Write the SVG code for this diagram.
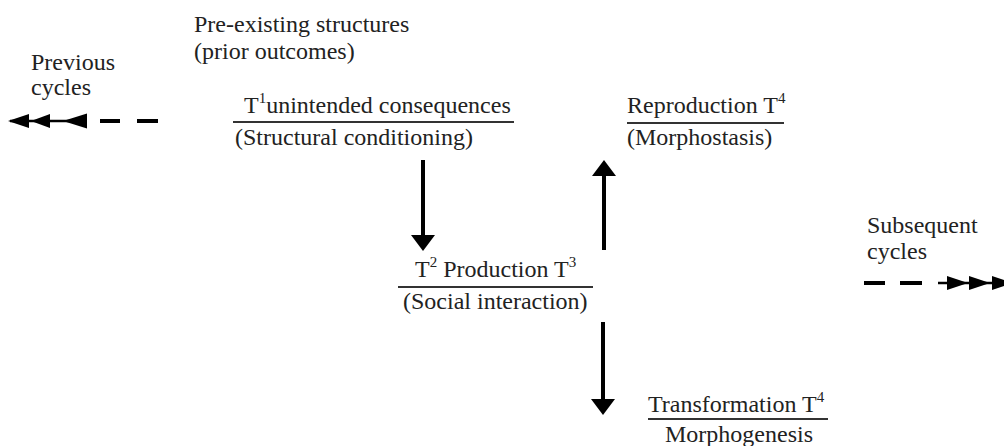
<svg xmlns="http://www.w3.org/2000/svg" width="1004" height="446" viewBox="0 0 1004 446" font-family="'Liberation Serif', 'Times New Roman', Tinos, 'DejaVu Serif', serif" font-size="24">
<style>
text{font-family:'Liberation Serif','Times New Roman',Tinos,'DejaVu Serif',serif;font-size:24px;fill:#222}
.c{text-anchor:middle}
.sup{font-size:15px}
.rule{stroke:#333;stroke-width:2}
.shaft{stroke:#000;stroke-width:4}
.dash{stroke:#000;stroke-width:4}
.head{fill:#000}
</style>
<rect width="1004" height="446" fill="#fff"/>
<g id="previous-cycles">
<text x="31" y="70">Previous</text>
<text x="31" y="95">cycles</text>
</g>
<g id="pre-existing">
<text x="194" y="32">Pre-existing structures</text>
<text x="194" y="59">(prior outcomes)</text>
</g>
<g id="t1">
<text x="244" y="113">T<tspan class="sup" dy="-10">1</tspan><tspan dy="10">unintended consequences</tspan></text>
<line class="rule" x1="233" y1="122" x2="514" y2="122"/>
<text x="235" y="145">(Structural conditioning)</text>
</g>
<g id="t2">
<text x="415" y="277">T<tspan class="sup" dy="-10">2</tspan><tspan dy="10"> Production T</tspan><tspan class="sup" dy="-10">3</tspan></text>
<line class="rule" x1="398" y1="287" x2="593" y2="287"/>
<text x="403" y="309">(Social interaction)</text>
</g>
<g id="reproduction">
<text x="627" y="113">Reproduction T<tspan class="sup" dy="-10">4</tspan></text>
<line class="rule" x1="627" y1="123" x2="784" y2="123"/>
<text x="627" y="145">(Morphostasis)</text>
</g>
<g id="transformation">
<text x="648" y="412">Transformation T<tspan class="sup" dy="-10">4</tspan></text>
<line class="rule" x1="648" y1="419" x2="828" y2="419"/>
<text x="665" y="442">Morphogenesis</text>
</g>
<g id="subsequent-cycles">
<text x="867" y="233">Subsequent</text>
<text x="867" y="259">cycles</text>
</g>
<g id="connectors">
<line class="shaft" x1="423" y1="160" x2="423" y2="237"/>
<polygon class="head" points="411,235 435,235 423,251"/>
<line class="shaft" x1="604" y1="250" x2="604" y2="173"/>
<polygon class="head" points="592,176 616,176 604,160"/>
<line class="shaft" x1="603" y1="322" x2="603" y2="401"/>
<polygon class="head" points="591,399 615,399 603,415"/>
<line stroke="#000" stroke-width="2.5" x1="10" y1="121" x2="86" y2="121"/>
<polygon class="head" points="8,121 29,114 29,128"/>
<polygon class="head" points="31,121 50,114 50,128"/>
<polygon class="head" points="63,121 87,113.5 87,128.5"/>
<line class="dash" x1="100" y1="121" x2="120" y2="121"/>
<line class="dash" x1="137" y1="121" x2="158" y2="121"/>
<line class="dash" x1="864" y1="283" x2="885" y2="283"/>
<line class="dash" x1="900" y1="283" x2="922" y2="283"/>
<line stroke="#000" stroke-width="2.5" x1="938" y1="283" x2="1004" y2="283"/>
<polygon class="head" points="947,276 947,290 968,283"/>
<polygon class="head" points="969,276 969,290 990,283"/>
<polygon class="head" points="992,276 992,290 1013,283"/>
</g>
</svg>
